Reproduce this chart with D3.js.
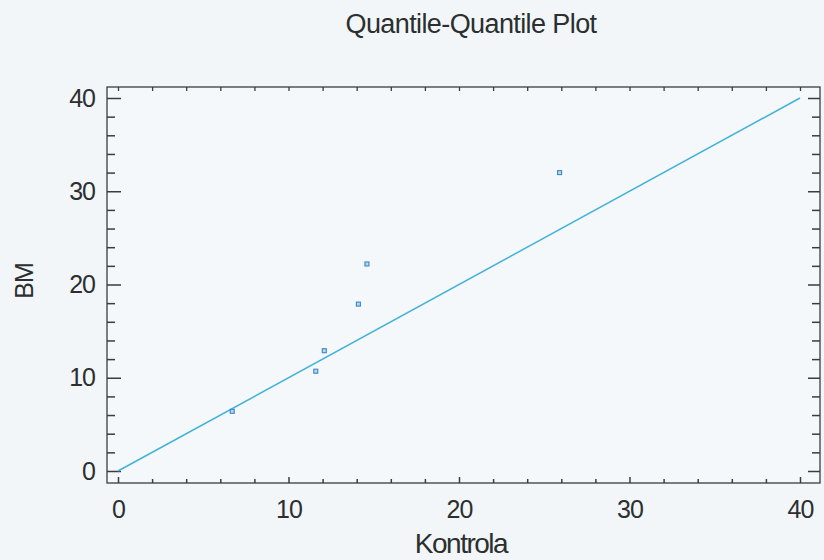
<!DOCTYPE html>
<html>
<head>
<meta charset="utf-8">
<script src="https://cdn.jsdelivr.net/npm/d3@7"></script>
<style>
  body { margin: 0; background: #f2f6f8; }
  text { font-family: "Liberation Sans", Arial, sans-serif; fill: #2b2f2f; }
</style>
</head>
<body>
<div id="chart"></div>
<script>
// quantiles
const kontrola = [6.7, 11.6, 12.1, 14.1, 14.6, 25.9];
const bm = [6.4, 10.7, 12.9, 17.9, 22.2, 32.0];
const majorTicks = [0, 10, 20, 30, 40];
const refLine = [0, 40];

const width = 824;
const height = 560;

const svg = d3.select('#chart')
  .append('svg')
  .attr('width', width)
  .attr('height', height)
  .style('background', '#f2f6f8');

const x = d3.scaleLinear().domain([0, 40]).range([118, 800]);
const y = d3.scaleLinear().domain([0, 40]).range([471, 98]);

const frame = { left: 107, right: 820, top: 87, bottom: 483 };
const minor = d3.range(0, 41, 2).filter(v => v % 10 !== 0);

svg.append('rect')
  .attr('x', frame.left)
  .attr('y', frame.top)
  .attr('width', frame.right - frame.left)
  .attr('height', frame.bottom - frame.top)
  .attr('fill', '#f4f8fa')
  .attr('stroke', '#3a3d3d')
  .attr('stroke-width', 1.3);

// bottom axis, ticks pointing in
const xAxis = svg.append('g')
  .attr('transform', `translate(0, ${frame.bottom})`)
  .call(d3.axisBottom(x).tickValues(majorTicks).tickSize(-6).tickPadding(17).tickSizeOuter(0));
xAxis.select('.domain').remove();
xAxis.selectAll('.tick line').attr('stroke', '#3a3d3d').attr('stroke-width', 1.5);
xAxis.selectAll('.tick text')
  .attr('font-size', 25)
  .attr('letter-spacing', -1)
  .attr('fill', '#2b2f2f');

svg.append('g')
  .attr('transform', `translate(0, ${frame.bottom})`)
  .call(d3.axisBottom(x).tickValues(minor).tickSize(-4).tickFormat('').tickSizeOuter(0))
  .call(g => g.select('.domain').remove())
  .selectAll('.tick line').attr('stroke', '#3a3d3d').attr('stroke-width', 1.5);

// top frame ticks
svg.append('g')
  .attr('transform', `translate(0, ${frame.top})`)
  .call(d3.axisTop(x).tickValues(d3.range(0, 41, 2)).tickSize(-4).tickFormat('').tickSizeOuter(0))
  .call(g => g.select('.domain').remove())
  .selectAll('.tick line').attr('stroke', '#3a3d3d').attr('stroke-width', 1.3);

// left axis
const yAxis = svg.append('g')
  .attr('transform', `translate(${frame.left}, 0)`)
  .call(d3.axisLeft(y).tickValues(majorTicks).tickSize(-14).tickPadding(12).tickSizeOuter(0));
yAxis.select('.domain').remove();
yAxis.selectAll('.tick line').attr('stroke', '#3a3d3d').attr('stroke-width', 1.5);
yAxis.selectAll('.tick text')
  .attr('font-size', 25)
  .attr('letter-spacing', -1)
  .attr('fill', '#2b2f2f');

svg.append('g')
  .attr('transform', `translate(${frame.left}, 0)`)
  .call(d3.axisLeft(y).tickValues(minor).tickSize(-8).tickFormat('').tickSizeOuter(0))
  .call(g => g.select('.domain').remove())
  .selectAll('.tick line').attr('stroke', '#3a3d3d').attr('stroke-width', 1.5);

// right frame ticks
svg.append('g')
  .attr('transform', `translate(${frame.right}, 0)`)
  .call(d3.axisRight(y).tickValues(d3.range(0, 41, 2)).tickSize(-8).tickFormat('').tickSizeOuter(0))
  .call(g => g.select('.domain').remove())
  .selectAll('.tick line')
  .attr('stroke', '#3a3d3d')
  .attr('stroke-width', 1.5)
  .attr('x2', d => d % 10 === 0 ? -12 : -8);

// reference line y = x
svg.append('line')
  .attr('x1', x(refLine[0]))
  .attr('y1', y(refLine[0]))
  .attr('x2', x(refLine[1]))
  .attr('y2', y(refLine[1]))
  .attr('stroke', '#44b2d8')
  .attr('stroke-width', 1.5);

// points
svg.selectAll('.pt')
  .data(kontrola.map((k, i) => [k, bm[i]]))
  .enter()
  .append('rect')
  .attr('class', 'pt')
  .attr('x', d => x(d[0]) - 2)
  .attr('y', d => y(d[1]) - 2)
  .attr('width', 4)
  .attr('height', 4)
  .attr('fill', '#b9d6ee')
  .attr('stroke', '#3c86c8')
  .attr('stroke-width', 1.1);

svg.append('text')
  .attr('x', 471)
  .attr('y', 33)
  .attr('text-anchor', 'middle')
  .attr('font-size', 27)
  .attr('letter-spacing', -0.6)
  .text('Quantile-Quantile Plot');

svg.append('text')
  .attr('x', 461)
  .attr('y', 553)
  .attr('text-anchor', 'middle')
  .attr('font-size', 28)
  .attr('letter-spacing', -1.5)
  .text('Kontrola');

svg.append('text')
  .attr('transform', 'translate(33, 281) rotate(-90)')
  .attr('text-anchor', 'middle')
  .attr('font-size', 25)
  .attr('letter-spacing', -1)
  .text('BM');
</script>
</body>
</html>
